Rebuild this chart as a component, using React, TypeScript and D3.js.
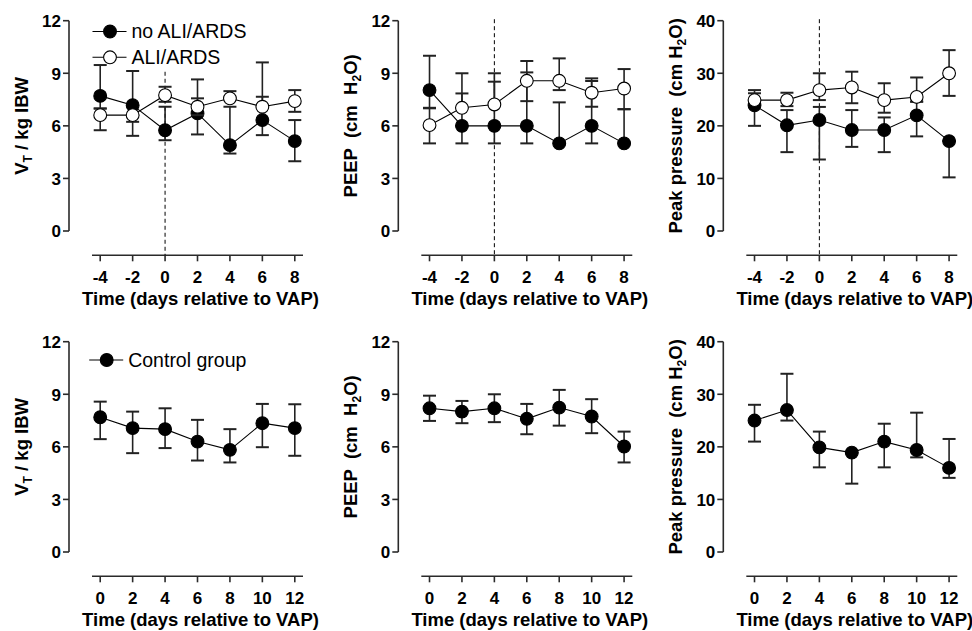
import React from 'react';
import * as d3 from 'd3';

// ---- data ----
const daysTop = [-4, -2, 0, 2, 4, 6, 8];
const daysBottom = [0, 2, 4, 6, 8, 10, 12];
const ticksSmall = [0, 3, 6, 9, 12];
const ticksPeak = [0, 10, 20, 30, 40];

// VT / kg IBW
const vtNoAliMean = [7.71, 7.18, 5.75, 6.71, 4.9, 6.33, 5.13];
const vtNoAliLo = [6.99, 6.23, 5.18, 5.51, 4.42, 5.47, 3.98];
const vtNoAliHi = [9.47, 9.13, 7.09, 7.57, 7.09, 7.66, 6.33];
const vtAliMean = [6.61, 6.61, 7.75, 7.09, 7.57, 7.09, 7.41];
const vtAliLo = [5.75, 5.43, 7.37, 6.61, 7.57, 7.09, 6.8];
const vtAliHi = [6.99, 6.61, 8.23, 8.65, 7.98, 9.62, 8.04];

// PEEP
const peepNoAliMean = [8.04, 6, 6, 6, 5, 6, 5];
const peepNoAliLo = [7.0, 5, 5, 5, 5, 5, 5];
const peepNoAliHi = [10, 7.85, 8.52, 9.05, 7.34, 8.56, 6.95];
const peepAliMean = [6.04, 7.03, 7.22, 8.57, 8.57, 7.89, 8.13];
const peepAliLo = [5, 7.03, 7.22, 7.41, 8.04, 7.09, 6.95];
const peepAliHi = [7.03, 9.0, 9.0, 9.7, 9.85, 8.71, 9.24];

// Peak pressure
const peakNoAliMean = [23.9, 20.1, 21.1, 19.2, 19.2, 22.0, 17.1];
const peakNoAliLo = [20, 15, 13.6, 16, 15, 18, 10.2];
const peakNoAliHi = [26.2, 23.0, 23.6, 23.0, 21.6, 24.6, 17.1];
const peakAliMean = [24.9, 24.9, 26.8, 27.3, 24.9, 25.5, 30.0];
const peakAliLo = [24.9, 23.75, 24.9, 24.3, 22.5, 24.6, 25.7];
const peakAliHi = [26.8, 26.3, 30.0, 30.3, 28.1, 29.2, 34.4];

// Control group
const vtCtrlMean = [7.69, 7.07, 7.01, 6.3, 5.83, 7.35, 7.07];
const vtCtrlLo = [6.44, 5.64, 5.93, 5.22, 5.11, 5.98, 5.49];
const vtCtrlHi = [8.58, 8.01, 8.2, 7.54, 7.01, 8.45, 8.43];
const peepCtrlMean = [8.2, 8.01, 8.2, 7.6, 8.24, 7.73, 6.02];
const peepCtrlLo = [7.48, 7.35, 7.41, 6.72, 7.21, 6.78, 5.11];
const peepCtrlHi = [8.92, 8.62, 9.0, 8.45, 9.25, 8.72, 6.87];
const peakCtrlMean = [25.0, 27.0, 19.9, 18.9, 21.0, 19.4, 16.0];
const peakCtrlLo = [21.0, 25.0, 16.1, 13.0, 16.1, 18.0, 14.1];
const peakCtrlHi = [28.0, 33.9, 22.9, 18.9, 24.4, 26.5, 21.5];

const legendTop = ['no ALI/ARDS', 'ALI/ARDS'];
const legendBottom = ['Control group'];
const xTitle = 'Time (days relative to VAP)';

type Series = { mean: number[]; lo: number[]; hi: number[]; open: boolean };
type PanelDef = {
  col: number;
  row: number;
  days: number[];
  yMax: number;
  yTicks: number[];
  title: 'vt' | 'peep' | 'peak';
  series: Series[];
  dashedTop?: number;
  legend?: string[];
};

const panels: PanelDef[] = [
  { col: 0, row: 0, days: daysTop, yMax: 12, yTicks: ticksSmall, title: 'vt', dashedTop: 9,
    legend: legendTop,
    series: [
      { mean: vtNoAliMean, lo: vtNoAliLo, hi: vtNoAliHi, open: false },
      { mean: vtAliMean, lo: vtAliLo, hi: vtAliHi, open: true },
    ] },
  { col: 1, row: 0, days: daysTop, yMax: 12, yTicks: ticksSmall, title: 'peep', dashedTop: 12,
    series: [
      { mean: peepNoAliMean, lo: peepNoAliLo, hi: peepNoAliHi, open: false },
      { mean: peepAliMean, lo: peepAliLo, hi: peepAliHi, open: true },
    ] },
  { col: 2, row: 0, days: daysTop, yMax: 40, yTicks: ticksPeak, title: 'peak', dashedTop: 40,
    series: [
      { mean: peakNoAliMean, lo: peakNoAliLo, hi: peakNoAliHi, open: false },
      { mean: peakAliMean, lo: peakAliLo, hi: peakAliHi, open: true },
    ] },
  { col: 0, row: 1, days: daysBottom, yMax: 12, yTicks: ticksSmall, title: 'vt', legend: legendBottom,
    series: [{ mean: vtCtrlMean, lo: vtCtrlLo, hi: vtCtrlHi, open: false }] },
  { col: 1, row: 1, days: daysBottom, yMax: 12, yTicks: ticksSmall, title: 'peep',
    series: [{ mean: peepCtrlMean, lo: peepCtrlLo, hi: peepCtrlHi, open: false }] },
  { col: 2, row: 1, days: daysBottom, yMax: 40, yTicks: ticksPeak, title: 'peak',
    series: [{ mean: peakCtrlMean, lo: peakCtrlLo, hi: peakCtrlHi, open: false }] },
];

// ---- layout ----
const AXIS_X = [69, 398.3, 723.3];
const TITLE_X = [27.5, 357, 682];
const ROW_TOP = [20.7, 341.7];
const PLOT_H = 210.3;
const FONT = '"Liberation Sans", Arial, Helvetica, sans-serif';
const AX = '#2a2a2a';

function YTitle({ kind, x, y }: { kind: string; x: number; y: number }) {
  const common = {
    transform: `translate(${x},${y}) rotate(-90)`,
    textAnchor: 'middle' as const,
    fontFamily: FONT,
    fontWeight: 700,
    fontSize: 18.5,
    fill: '#000',
  };
  if (kind === 'vt') {
    return (
      <text {...common}>
        V<tspan fontSize={12} dy={4}>T</tspan>
        <tspan dy={-4}> / kg IBW</tspan>
      </text>
    );
  }
  if (kind === 'peep') {
    return (
      <text {...common} style={{ whiteSpace: 'pre' }}>
        {'PEEP  (cm  H'}
        <tspan fontSize={12} dy={4}>2</tspan>
        <tspan dy={-4}>O)</tspan>
      </text>
    );
  }
  return (
    <text {...common} style={{ whiteSpace: 'pre' }}>
      {'Peak pressure  (cm H'}
      <tspan fontSize={12} dy={4}>2</tspan>
      <tspan dy={-4}>O)</tspan>
    </text>
  );
}

function Panel({ p }: { p: PanelDef }) {
  const ax = AXIS_X[p.col];
  const top = ROW_TOP[p.row];
  const bottom = top + PLOT_H;
  const xAxisY = bottom + 24.3;
  const d0 = p.days[0];
  const d1 = p.days[p.days.length - 1];
  const x = d3.scaleLinear().domain([d0 - 1, d1 + 1]).range([ax + 15, ax + 242]);
  const y = d3.scaleLinear().domain([0, p.yMax]).range([bottom, top]);
  const line = d3
    .line<number>()
    .x((_, i) => x(p.days[i]))
    .y((v) => y(v));
  const r = 6.4;
  const cap = 6.5;
  const xl0 = x(d0) - 8.2;
  const xl1 = x(d1) + 8.2;

  return (
    <g>
      {/* y axis */}
      <line x1={ax} x2={ax} y1={y(p.yMax)} y2={y(0)} stroke={AX} strokeWidth={1.6} />
      {p.yTicks.map((t) => (
        <g key={t}>
          <line x1={ax - 6} x2={ax} y1={y(t)} y2={y(t)} stroke={AX} strokeWidth={1.6} />
          <text x={ax - 8} y={y(t) + 6.3} textAnchor="end" fontFamily={FONT} fontWeight={700} fontSize={17}>
            {t}
          </text>
        </g>
      ))}
      {/* x axis */}
      <line x1={xl0} x2={xl1} y1={xAxisY} y2={xAxisY} stroke={AX} strokeWidth={1.6} />
      {p.days.map((d) => (
        <g key={d}>
          <line x1={x(d)} x2={x(d)} y1={xAxisY} y2={xAxisY + 6} stroke={AX} strokeWidth={1.6} />
          <text x={x(d)} y={xAxisY + 28} textAnchor="middle" fontFamily={FONT} fontWeight={700} fontSize={17}>
            {d}
          </text>
        </g>
      ))}
      <text
        x={(xl0 + xl1) / 2 + 3}
        y={xAxisY + 50}
        textAnchor="middle"
        fontFamily={FONT}
        fontWeight={700}
        fontSize={18.5}
      >
        {xTitle}
      </text>
      <YTitle kind={p.title} x={TITLE_X[p.col]} y={(top + bottom) / 2} />

      {/* dashed reference line at day 0 */}
      {p.dashedTop !== undefined && (
        <line
          x1={x(0)}
          x2={x(0)}
          y1={y(p.dashedTop) - 1.5}
          y2={xAxisY}
          stroke="#000"
          strokeWidth={1}
          strokeDasharray="4,3"
        />
      )}

      {/* series */}
      {p.series.map((s, si) => (
        <g key={si}>
          <path d={line(s.mean) || ''} fill="none" stroke="#000" strokeWidth={1.1} />
          {s.mean.map((m, i) => {
            const cx = x(p.days[i]);
            return (
              <g key={i} stroke="#222" strokeWidth={1.6}>
                <line x1={cx} x2={cx} y1={y(s.hi[i])} y2={y(s.lo[i])} />
                <line x1={cx - cap} x2={cx + cap} y1={y(s.hi[i])} y2={y(s.hi[i])} strokeWidth={2} />
                <line x1={cx - cap} x2={cx + cap} y1={y(s.lo[i])} y2={y(s.lo[i])} strokeWidth={2} />
              </g>
            );
          })}
          {s.mean.map((m, i) => (
            <circle
              key={i}
              cx={x(p.days[i])}
              cy={y(m)}
              r={r}
              fill={s.open ? '#fff' : '#000'}
              stroke="#000"
              strokeWidth={1.1}
            />
          ))}
        </g>
      ))}

      {/* legend */}
      {p.legend &&
        p.legend.map((lab, li) => {
          const ly = p.row === 0 ? 31.5 + li * 25.8 : 360;
          const lx = p.row === 0 ? 110 : 106.7;
          return (
            <g key={lab}>
              <line x1={lx - 17.5} x2={lx + 16.5} y1={ly} y2={ly} stroke="#000" strokeWidth={1.1} />
              <circle cx={lx} cy={ly} r={r} fill={li === 1 ? '#fff' : '#000'} stroke="#000" strokeWidth={1.1} />
              <text x={lx + 21.5} y={ly + 6.5} fontFamily={FONT} fontSize={19.5} fill="#000">
                {lab}
              </text>
            </g>
          );
        })}
    </g>
  );
}

export default function App() {
  return (
    <svg
      width={972}
      height={631}
      viewBox="0 0 972 631"
      style={{ position: 'absolute', left: 0, top: 0, background: '#fff' }}
    >
      <rect width={972} height={631} fill="#fff" />
      {panels.map((p, i) => (
        <Panel key={i} p={p} />
      ))}
    </svg>
  );
}
